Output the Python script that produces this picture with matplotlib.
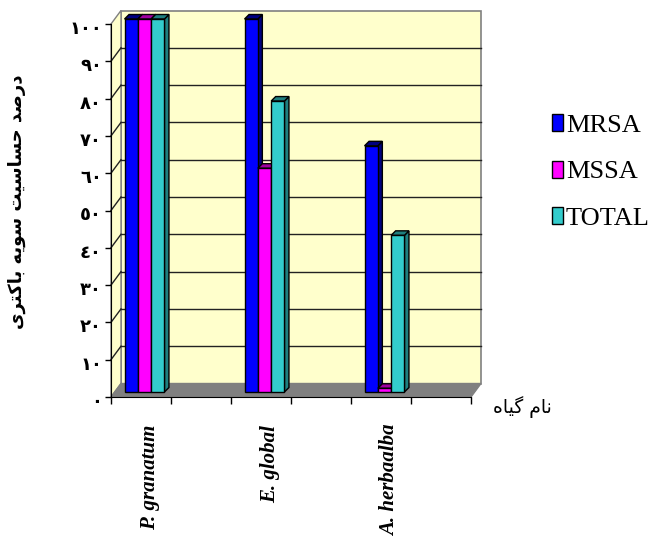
import matplotlib
matplotlib.use('Agg')
import matplotlib.pyplot as plt
from matplotlib.patches import Polygon, Patch, Rectangle
from matplotlib.transforms import Affine2D, IdentityTransform

categories = ['P. granatum', '', 'E. global', '', 'A. herbaalba', '']
series_names = ['MRSA', 'MSSA', 'TOTAL']
mrsa = [100, 0, 100, 0, 66, 0]
mssa = [100, 0, 60, 0, 1, 0]
total = [100, 0, 78, 0, 42, 0]
y_ticks = [0, 10, 20, 30, 40, 50, 60, 70, 80, 90, 100]
y_tick_labels = ['٠', '١٠', '٢٠', '٣٠', '٤٠', '٥٠', '٦٠', '٧٠', '٨٠', '٩٠', '١٠٠']
y_title = 'درصد حساسیت سویه باکتری'
x_title = 'نام گیاه'

front_colors = ['#0000FF', '#FF00FF', '#33CCCC']
shade_colors = ['#000080', '#A000A0', '#1F7F7F']

# letter: isolated, final, initial, medial (matplotlib does no arabic shaping)
forms = {
    'ا': '\uFE8D\uFE8E', 'د': '\uFEA9\uFEAA', 'ر': '\uFEAD\uFEAE', 'و': '\uFEED\uFEEE',
    'ب': '\uFE8F\uFE90\uFE91\uFE92', 'ت': '\uFE95\uFE96\uFE97\uFE98',
    'ح': '\uFEA1\uFEA2\uFEA3\uFEA4', 'س': '\uFEB1\uFEB2\uFEB3\uFEB4',
    'ص': '\uFEB9\uFEBA\uFEBB\uFEBC', 'ک': '\uFB8E\uFB8F\uFB90\uFB91',
    'گ': '\uFB92\uFB93\uFB94\uFB95', 'م': '\uFEE1\uFEE2\uFEE3\uFEE4',
    'ن': '\uFEE5\uFEE6\uFEE7\uFEE8', 'ه': '\uFEE9\uFEEA\uFEEB\uFEEC',
    'ی': '\uFBFC\uFBFD\uFBFE\uFBFF',
}


def shape(text):
    out = []
    for i, c in enumerate(text):
        if c not in forms:
            out.append(c)
            continue
        prev = text[i - 1] if i > 0 else ' '
        nxt = text[i + 1] if i + 1 < len(text) else ' '
        join_prev = prev in forms and len(forms[prev]) == 4
        join_next = nxt in forms and len(forms[c]) == 4
        out.append(forms[c][int(join_prev) + 2 * int(join_next)])
    return ''.join(out)[::-1]


fig = plt.figure(figsize=(6.56, 5.36), dpi=100)
ax = fig.add_axes([111 / 656, (536 - 397) / 536, 360 / 656, 373 / 536])
ax.set_xlim(-0.5, 5.5)
ax.set_ylim(0, 100)
ax.patch.set_visible(False)
for s in ['top', 'right']:
    ax.spines[s].set_visible(False)
ax.set_axisbelow(False)

# walls and floor are the front plane pushed back by a pixel offset
back = (10, 13.5)
back_tr = ax.transData + Affine2D().translate(*back)
px = IdentityTransform()


def to_px(x, y, off=(0, 0)):
    p = ax.transData.transform((x, y))
    return (p[0] + off[0], p[1] + off[1])


ax.add_patch(Rectangle((-0.5, 0), 6, 100, transform=back_tr, fc='#FFFFCC', ec='#808080', lw=1.2,
                       clip_on=False, zorder=1))
ax.add_patch(Polygon([to_px(-0.5, 0), to_px(-0.5, 100), to_px(-0.5, 100, back), to_px(-0.5, 0, back)],
                     transform=px, fc='#FFFFCC', ec='#808080', lw=1, clip_on=False, zorder=1))
ax.add_patch(Polygon([to_px(-0.5, 0), to_px(5.5, 0), to_px(5.5, 0, back), to_px(-0.5, 0, back)],
                     transform=px, fc='#808080', ec='#808080', lw=1, clip_on=False, zorder=2))
for t in y_ticks[1:-1]:
    ax.plot([-0.5, 5.5], [t, t], color='#222222', lw=1, transform=back_tr, clip_on=False, zorder=2)
    ax.plot(*zip(to_px(-0.5, t), to_px(-0.5, t, back)), color='#222222', lw=1, transform=px,
            clip_on=False, zorder=2)

# bars
bar_off = (3.5, 5)
depth = (4.5, 4.5)
bar_tr = ax.transData + Affine2D().translate(*bar_off)
width = 13.3 / 60
z = 3
for n, values in enumerate([mrsa, mssa, total]):
    for i, v in enumerate(values):
        if v == 0:
            continue
        left = i + (n - 1.5) * width
        right = left + width
        bl = to_px(left, v, bar_off)
        br = to_px(right, v, bar_off)
        rb = to_px(right, 0, bar_off)
        d = lambda p: (p[0] + depth[0], p[1] + depth[1])
        ax.add_patch(Polygon([br, rb, d(rb), d(br)], transform=px, fc=shade_colors[n], ec='black', lw=1,
                             clip_on=False, zorder=z))
        ax.add_patch(Polygon([bl, br, d(br), d(bl)], transform=px, fc=shade_colors[n], ec='black', lw=1,
                             clip_on=False, zorder=z))
        b = ax.bar(left, v, width, align='edge', color=front_colors[n], edgecolor='black', lw=1, zorder=z)
        b[0].set_transform(bar_tr)
        b[0].set_clip_on(False)
        z += 1
ax.set_xlim(-0.5, 5.5)
ax.set_ylim(0, 100)

# axes
ax.set_yticks(y_ticks)
ax.set_yticklabels(y_tick_labels, fontsize=13, fontweight='bold', family='DejaVu Sans')
ax.tick_params(axis='y', length=4.5, width=1, pad=2)
for lab in ax.get_yticklabels():
    lab.set_transform(lab.get_transform() + Affine2D().translate(0, -3))
ax.set_xticks([i - 0.5 for i in range(7)], minor=True)
ax.tick_params(axis='x', which='minor', length=5, width=1)
ax.set_xticks(range(6))
ax.set_xticklabels(categories, rotation=90, fontsize=15, fontweight='bold', fontstyle='italic',
                   family='Liberation Serif', va='top', ha='center')
ax.tick_params(axis='x', which='major', length=0, pad=20)
for lab in ax.get_xticklabels():
    lab.set_transform(lab.get_transform() + Affine2D().translate(9, 0))

ax.set_ylabel(shape(y_title), fontsize=13, fontweight='bold', family='DejaVu Sans')
ax.yaxis.set_label_coords(-0.235, 0.523)
ax.set_xlabel(shape(x_title), fontsize=13.5, family='DejaVu Sans')
ax.xaxis.set_label_coords(1.142, 0.002)

handles = [Patch(fc=c, ec='black', lw=1) for c in front_colors]
fig.legend(handles, series_names, loc='center left', bbox_to_anchor=(528 / 656, 1 - 172 / 536), frameon=False,
           prop={'family': 'Liberation Serif', 'size': 19}, handlelength=0.43, handleheight=0.62,
           handletextpad=0.1, labelspacing=0.9)

fig.savefig('out.png', dpi=100)
